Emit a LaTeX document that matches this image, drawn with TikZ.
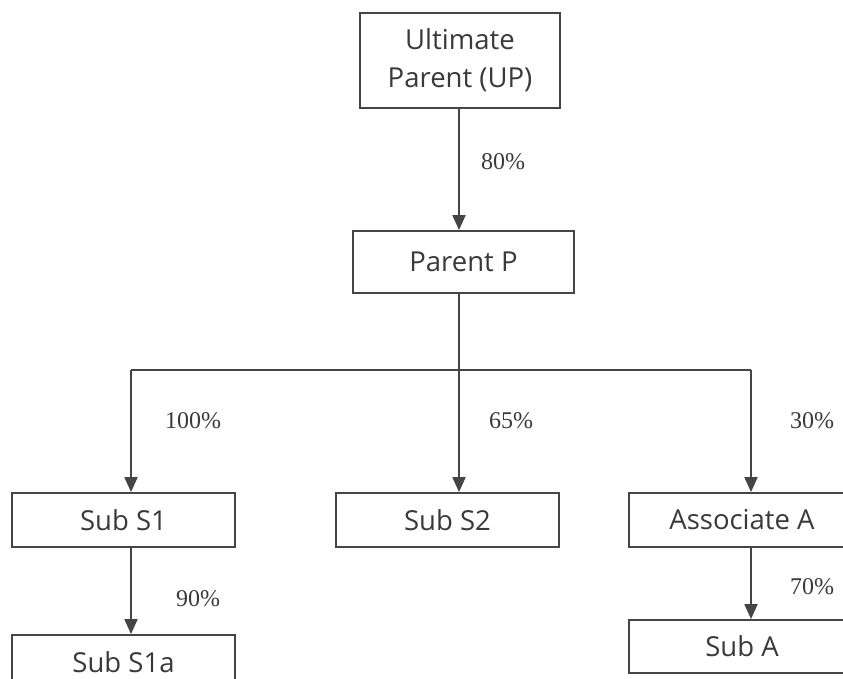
\documentclass[tikz,border=0pt]{standalone}
\usepackage{fontspec}
\setmainfont{Liberation Serif}
\newfontfamily\boxfont{Open Sans}
\usetikzlibrary{arrows.meta}
\definecolor{linegrey}{HTML}{454545}
\definecolor{textgrey}{HTML}{3A3A3A}
\tikzset{
  entity/.style={draw=linegrey, line width=1.8pt, fill=white, inner sep=0pt,
    text=textgrey, align=center, font=\boxfont\fontsize{27.5}{38}\selectfont},
  conn/.style={draw=linegrey, line width=1.8pt},
  arr/.style={conn, -{Triangle[length=15pt,width=13pt]}},
  pct/.style={text=textgrey, inner sep=0pt, font=\fontsize{24}{26}\selectfont}
}
\begin{document}
\begin{tikzpicture}[x=1pt,y=-1pt]
\useasboundingbox (0,0) rectangle (843,678);
\clip (0,0) rectangle (843,678);
\fill[white] (0,0) rectangle (843,678);
% boxes
\node[entity, minimum width=200pt, minimum height=95pt] (up) at (460,60.5) {Ultimate\\Parent (UP)};
\node[entity, minimum width=221pt, minimum height=62pt] (pp) at (463.5,262) {Parent P};
\node[entity, minimum width=223pt, minimum height=54pt] (s1) at (123.5,520) {Sub S1};
\node[entity, minimum width=223pt, minimum height=54pt] (s2) at (447.5,520) {Sub S2};
\node[entity, minimum width=226pt, minimum height=54pt] (aa) at (742,520) {Associate A};
\node[entity, minimum width=226pt, minimum height=53pt] (sa) at (742,646.5) {Sub A};
\node[entity, minimum width=223pt, minimum height=54pt] (s1a) at (123.5,662) {Sub S1a};
% bus coordinates
\coordinate (bus) at (459,370);
\coordinate (bl) at (131,370);
\coordinate (br) at (751,370);
% connectors
\draw[arr] (up.south -| bus) -- (bus |- pp.north);
\draw[conn] (pp.south -| bus) -- (bus);
\draw[conn] (bl) -- (br);
\draw[arr] (bl) -- (bl |- s1.north);
\draw[arr] (bus) -- (bus |- s2.north);
\draw[arr] (br) -- (br |- aa.north);
\draw[arr] (bl |- s1.south) -- (bl |- s1a.north);
\draw[arr] (br |- aa.south) -- (br |- sa.north);
% labels
\node[pct] (l80) at (503,162) {80\%};
\node[pct] (l100) at (193,421) {100\%};
\node[pct] (l65) at (511,421) {65\%};
\node[pct] (l30) at (812,421) {30\%};
\node[pct] (l90) at (198,599) {90\%};
\node[pct] (l70) at (812,587) {70\%};
\end{tikzpicture}
\end{document}
